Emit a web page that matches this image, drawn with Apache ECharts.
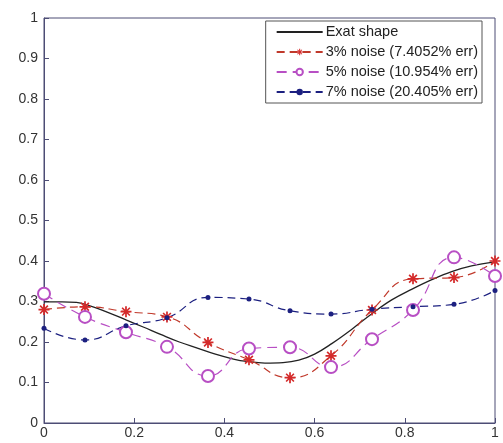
<!DOCTYPE html>
<html><head><meta charset="utf-8">
<script src="https://cdn.jsdelivr.net/npm/echarts@6/dist/echarts.min.js"></script>
<style>html,body{margin:0;padding:0;background:#fff}#c{width:503px;height:443px}</style>
</head><body><div id="c"></div>
<script>
var seriesNames = ['Exat shape', '3% noise (7.4052% err)', '5% noise (10.954% err)', '7% noise (20.405% err)'];
var xNoisy = [0, 0.0909, 0.1818, 0.2727, 0.3636, 0.4545, 0.5455, 0.6364, 0.7273, 0.8182, 0.9091, 1];
var yNoise3 = [0.280, 0.287, 0.275, 0.262, 0.199, 0.156, 0.112, 0.166, 0.279, 0.356, 0.359, 0.400];
var yNoise5 = [0.319, 0.262, 0.224, 0.188, 0.116, 0.184, 0.187, 0.138, 0.207, 0.279, 0.409, 0.363];
var yNoise7 = [0.234, 0.205, 0.240, 0.260, 0.310, 0.306, 0.277, 0.269, 0.281, 0.287, 0.293, 0.327];
var xExact = [0, 0.04, 0.072, 0.10, 0.14, 0.183, 0.22, 0.26, 0.30, 0.34, 0.38, 0.42, 0.45, 0.49, 0.53, 0.565, 0.60, 0.638, 0.682, 0.727, 0.771, 0.815, 0.86, 0.904, 0.948, 1];
var yExact = [0.299, 0.299, 0.298, 0.290, 0.274, 0.254, 0.237, 0.218, 0.200, 0.185, 0.170, 0.158, 0.152, 0.148, 0.149, 0.155, 0.170, 0.196, 0.231, 0.270, 0.304, 0.330, 0.354, 0.374, 0.388, 0.398];
var xTicks = [0, 0.2, 0.4, 0.6, 0.8, 1];
var yTicks = [0, 0.1, 0.2, 0.3, 0.4, 0.5, 0.6, 0.7, 0.8, 0.9, 1];

function pairs(xs, ys) { return xs.map(function (x, i) { return [x, ys[i]]; }); }
var starPath = 'path://M-1.1,-7L1.1,-7L1.1,7L-1.1,7Z M-7,-1.1L7,-1.1L7,1.1L-7,1.1Z M-5.7,-4.2L-4.2,-5.7L5.7,4.2L4.2,5.7Z M4.2,-5.7L5.7,-4.2L-4.2,5.7L-5.7,4.2Z';
var axisColor = '#4d4d75';
var chart = echarts.init(document.getElementById('c'));
chart.setOption({
  animation: false,
  backgroundColor: '#fff',
  textStyle: { fontFamily: 'Liberation Sans, Arial, sans-serif' },
  grid: { left: 44, right: 8, top: 18, bottom: 20, show: true, borderColor: axisColor, borderWidth: 1 },
  legend: {
    data: [
      { name: seriesNames[0], itemStyle: { color: 'rgba(0,0,0,0)', borderWidth: 0 } },
      { name: seriesNames[1] },
      { name: seriesNames[2] },
      { name: seriesNames[3] }
    ],
    orient: 'vertical', right: 21, top: 21,
    backgroundColor: '#fff', borderColor: '#555', borderWidth: 1, padding: [3, 4, 3, 10],
    itemWidth: 46, itemHeight: 8, itemGap: 4,
    textStyle: { fontSize: 14.5, lineHeight: 16, color: '#222', padding: [0, 0, 0, -2] }
  },
  xAxis: {
    type: 'value', min: 0, max: 1, interval: 0.2,
    axisLine: { show: true, lineStyle: { color: axisColor } },
    axisTick: { show: true, inside: true, length: 5, lineStyle: { color: axisColor } },
    axisLabel: { color: '#333', fontSize: 14, margin: 3, formatter: function (v) { return String(+v.toFixed(1)); } },
    splitLine: { show: false }
  },
  yAxis: {
    type: 'value', min: 0, max: 1, interval: 0.1,
    axisLine: { show: true, lineStyle: { color: axisColor } },
    axisTick: { show: true, inside: true, length: 5, lineStyle: { color: axisColor } },
    axisLabel: { color: '#333', fontSize: 14, margin: 6, formatter: function (v) { return String(+v.toFixed(1)); } },
    splitLine: { show: false }
  },
  series: [
    { name: seriesNames[0], type: 'line', data: pairs(xExact, yExact), smooth: 0.4, showSymbol: false, symbol: 'none',
      lineStyle: { color: '#222', width: 1.3 }, itemStyle: { color: '#222' } },
    { name: seriesNames[1], type: 'line', data: pairs(xNoisy, yNoise3), smooth: 0.5, symbol: starPath, symbolSize: 11,
      lineStyle: { color: '#c0392b', width: 1.2, type: [8, 5] }, itemStyle: { color: '#d42a2a', borderWidth: 0 } },
    { name: seriesNames[2], type: 'line', data: pairs(xNoisy, yNoise5), smooth: 0.5, symbol: 'emptyCircle', symbolSize: 12,
      lineStyle: { color: '#b84fc4', width: 1.2, type: [10, 6] }, itemStyle: { color: '#b84fc4', borderWidth: 1.3 } },
    { name: seriesNames[3], type: 'line', data: pairs(xNoisy, yNoise7), smooth: 0.5, symbol: 'circle', symbolSize: 5,
      lineStyle: { color: '#1c2080', width: 1.2, type: [8, 5] }, itemStyle: { color: '#1c2080' } }
  ]
});
</script></body></html>
